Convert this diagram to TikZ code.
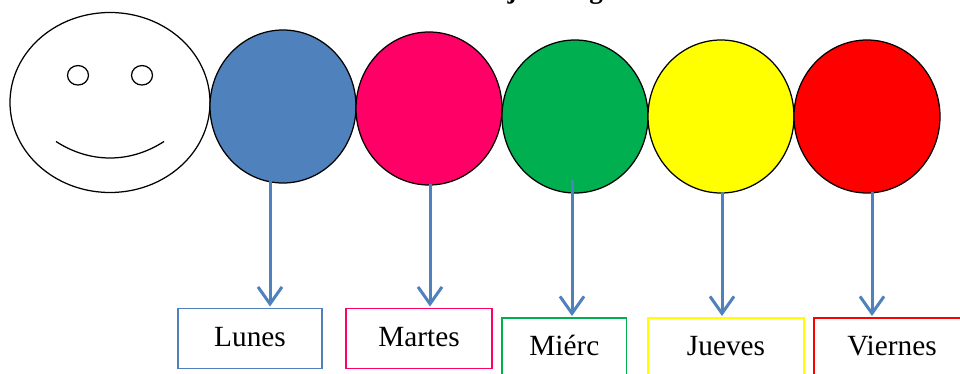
\documentclass[tikz,border=0pt]{standalone}
\usepackage{fontspec}
\setmainfont{Liberation Serif}
\usetikzlibrary{arrows.meta,shapes.geometric}
\definecolor{cblue}{HTML}{4F81BD}
\definecolor{cpink}{HTML}{FF0066}
\definecolor{cgreen}{HTML}{00B050}
\definecolor{cyel}{HTML}{FFFF00}
\definecolor{cred}{HTML}{FF0000}
\tikzset{
  outl/.style={draw=black,line width=1.25pt},
  disc/.style={outl,ellipse,inner sep=0pt,outer sep=0pt,minimum width=146pt,minimum height=153pt},
  lab/.style={draw=#1,line width=1.25pt,rectangle,inner sep=0pt,outer sep=0pt,minimum height=60pt,text height=20pt,text depth=5pt,font=\fontsize{29.3pt}{33pt}\selectfont},
  conn/.style={draw=cblue,line width=3pt,-{Straight Barb[length=17pt,width=24pt,line width=3pt]},shorten >=2pt},
  ttl/.style={font=\fontsize{27pt}{30pt}\selectfont\bfseries,anchor=base,inner sep=0pt},
}
\begin{document}
\begin{tikzpicture}[x=1pt,y=-1pt]
\path[use as bounding box] (0,0) rectangle (960,374);
\clip (0,0) rectangle (960,374);
\node[ttl] (t1) at (512,-1) {j};
\node[ttl] (t2) at (596,-1) {g};
\node[outl,ellipse,inner sep=0pt,minimum width=200pt,minimum height=180pt] (face) at (110,102.5) {};
\node[outl,ellipse,inner sep=0pt,minimum width=21pt,minimum height=19.5pt] (eye1) at (78,75.3) {};
\node[outl,ellipse,inner sep=0pt,minimum width=21pt,minimum height=19.5pt] (eye2) at (142,75.3) {};
\coordinate (m1) at (56,141.5);
\coordinate (m2) at (164,141.5);
\draw[outl] (m1) .. controls (90,163.5) and (130,163.5) .. (m2);
\node[disc,fill=cblue] (c1) at (283,106.5) {};
\node[disc,fill=cpink] (c2) at (429,108.5) {};
\node[disc,fill=cgreen] (c3) at (575,116.5) {};
\node[disc,fill=cyel] (c4) at (721,116.5) {};
\node[disc,fill=cred] (c5) at (867,116.5) {};
\node[lab=cblue,minimum width=144pt] (b1) at (250,338.5) {Lunes};
\node[lab=cpink,minimum width=146pt] (b2) at (419,338.5) {Martes};
\node[lab=cgreen,minimum width=124.5pt] (b3) at (564.3,348) {Miérc};
\node[lab=cyel,minimum width=156pt] (b4) at (726,348) {Jueves};
\node[lab=cred,minimum width=156pt] (b5) at (892,348) {Viernes};
\coordinate (s1) at (270,181);
\coordinate (s2) at (430,184);
\coordinate (s3) at (572,180);
\coordinate (s4) at (722,192);
\coordinate (s5) at (872,192);
\draw[conn] (s1) -- (s1 |- b1.north);
\draw[conn] (s2) -- (s2 |- b2.north);
\draw[conn] (s3) -- (s3 |- b3.north);
\draw[conn] (s4) -- (s4 |- b4.north);
\draw[conn] (s5) -- (s5 |- b5.north);
\end{tikzpicture}
\end{document}
